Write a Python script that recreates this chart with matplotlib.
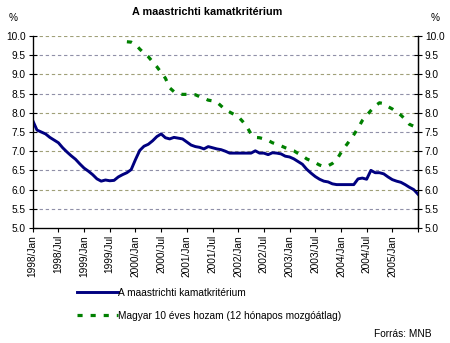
import matplotlib
matplotlib.use("Agg")
import matplotlib.pyplot as plt
import numpy as np

plt.rcParams['font.family'] = ['Liberation Sans', 'DejaVu Sans']

# month index 0 = 1998/Jan
tick_labels = ["1998/Jan", "1998/Jul", "1999/Jan", "1999/Jul", "2000/Jan", "2000/Jul",
               "2001/Jan", "2001/Jul", "2002/Jan", "2002/Jul", "2003/Jan", "2003/Jul",
               "2004/Jan", "2004/Jul", "2005/Jan", ""]

maastricht = [7.80, 7.55, 7.50, 7.45, 7.36, 7.29, 7.22, 7.09, 6.98, 6.88,
              6.79, 6.67, 6.56, 6.48, 6.39, 6.28, 6.22, 6.25, 6.23, 6.24,
              6.33, 6.39, 6.44, 6.52, 6.78, 7.02, 7.13, 7.18, 7.27, 7.38,
              7.45, 7.35, 7.32, 7.36, 7.34, 7.32, 7.24, 7.16, 7.12, 7.10,
              7.06, 7.12, 7.09, 7.06, 7.04, 7.00, 6.95, 6.95, 6.95, 6.95,
              6.95, 6.95, 7.01, 6.95, 6.95, 6.91, 6.96, 6.95, 6.93, 6.87,
              6.85, 6.80, 6.73, 6.66, 6.53, 6.43, 6.34, 6.27, 6.22, 6.20,
              6.15, 6.13, 6.13, 6.13, 6.13, 6.13, 6.28, 6.30, 6.27, 6.50,
              6.44, 6.44, 6.41, 6.33, 6.26, 6.22, 6.19, 6.13, 6.06, 6.00,
              5.88]

hozam_start = 22
hozam = [9.85, 9.84, 9.78, 9.66, 9.55, 9.46, 9.33, 9.20, 9.05, 8.90,
         8.65, 8.55, 8.50, 8.48, 8.48, 8.48, 8.47, 8.42, 8.38, 8.33,
         8.31, 8.28, 8.18, 8.08, 8.02, 7.96, 7.90, 7.78, 7.64, 7.45,
         7.36, 7.35, 7.32, 7.28, 7.22, 7.18, 7.14, 7.09, 7.05, 7.01,
         6.94, 6.88, 6.80, 6.75, 6.70, 6.64, 6.60, 6.62, 6.68, 6.78,
         6.96, 7.12, 7.27, 7.43, 7.60, 7.80, 7.93, 8.06, 8.18, 8.26,
         8.24, 8.16, 8.10, 8.02, 7.94, 7.83, 7.70, 7.65]

x_m = np.arange(len(maastricht))
x_h = np.arange(hozam_start, hozam_start + len(hozam))

W, H = 450, 343
fig = plt.figure(figsize=(W / 100, H / 100), dpi=100)
ax = fig.add_axes([32.7 / W, 1 - 228 / H, (418 - 32.7) / W, (228 - 36) / H])

fs = 7.3
navy = '#000080'
green = '#008000'

ax.set_xlim(0, 90)
ax.set_ylim(5.0, 10.0)
yt = np.arange(5.0, 10.01, 0.5)
ax.set_yticks(yt)
ax.set_yticklabels([f"{v:.1f}" for v in yt], fontsize=fs)

# gridlines
grid_cols = ['#a0a0a0', '#9090a8', '#a0a078', '#9090a8', '#a0a078', '#9090a8',
             '#a0a078', '#9090a8', '#a0a078', '#9090a8', '#a0a078']
for v, c in zip(yt, grid_cols):
    if v <= 5.0:
        continue
    ax.axhline(v, color=c, lw=0.8, linestyle=(0, (3, 2.5)), zorder=1)

ax.plot(x_m, maastricht, color=navy, lw=2.1, zorder=3, solid_joinstyle='round',
        label="A maastrichti kamatkritérium")
ax.plot(x_h, hozam, color=green, lw=2.3, zorder=3, dash_capstyle='butt',
        linestyle=(0, (1.6, 2.5)),
        label="Magyar 10 éves hozam (12 hónapos mozgóátlag)")

ax.set_xticks(np.arange(0, 91, 6))
ax.set_xticklabels(tick_labels, rotation=90, fontsize=fs, va='top', ha='center')
ax.tick_params(axis='x', direction='out', length=3, width=0.8, pad=2)
ax.tick_params(axis='y', direction='inout', length=6, width=0.8, pad=2)

ax.spines['top'].set_visible(False)
for s in ['left', 'right', 'bottom']:
    ax.spines[s].set_linewidth(0.9)
    ax.spines[s].set_color('black')

ax2 = ax.twinx()
ax2.set_ylim(5.0, 10.0)
ax2.set_yticks(yt)
ax2.set_yticklabels([f"{v:.1f}" for v in yt], fontsize=fs)
ax2.tick_params(axis='y', direction='inout', length=6, width=0.8, pad=2)
ax2.spines['top'].set_visible(False)
ax2.spines['right'].set_linewidth(0.9)

fig.text(207 / W, 1 - 12 / H, "A maastrichti kamatkritérium", ha='center', va='center',
         fontsize=7.8, fontweight='bold')
fig.text(12.7 / W, 1 - 18 / H, "%", ha='center', va='center', fontsize=fs)
fig.text(435 / W, 1 - 18 / H, "%", ha='center', va='center', fontsize=fs)
fig.text(432 / W, 1 - 334 / H, "Forrás: MNB", ha='right', va='center', fontsize=fs)

handles, labels = ax.get_legend_handles_labels()
leg = fig.legend(handles, labels, loc='upper left', bbox_to_anchor=(77 / W, 1 - 288 / H),
                 frameon=False, fontsize=fs, handlelength=4.0, handletextpad=0.05,
                 labelspacing=1.25, borderaxespad=0, borderpad=0)

fig.savefig("out.png", dpi=100)
